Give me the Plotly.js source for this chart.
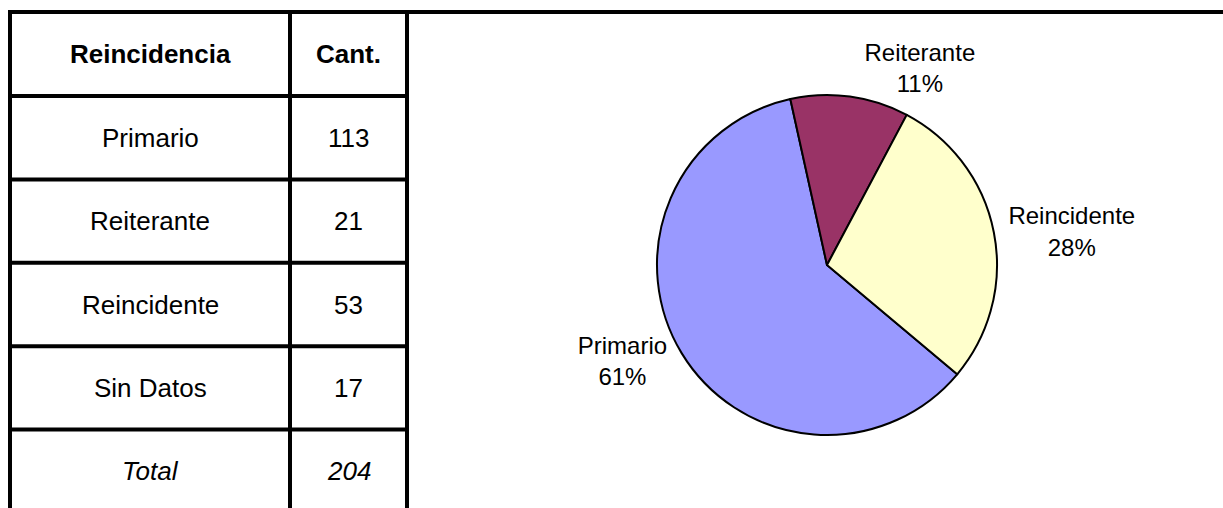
<!DOCTYPE html>
<html>
<head>
<meta charset="utf-8">
<script src="https://cdn.plot.ly/plotly-3.0.1.min.js"></script>
<style>html,body{margin:0;padding:0;background:#fff;}#chart{width:1223px;height:508px;}</style>
</head>
<body>
<div id="chart"></div>
<script>
// ---- data ----
const headerLabels = ['Reincidencia', 'Cant.'];
const categories = ['Primario', 'Reiterante', 'Reincidente', 'Sin Datos'];
const counts = [113, 21, 53, 17];
const totalLabel = 'Total';
const totalValue = 204;
const pieLabels = ['Primario', 'Reiterante', 'Reincidente'];
const pieValues = [113, 21, 53];
const pieText = ['61%', '11%', '28%'];
const pieColors = ['#9999FF', '#993366', '#FFFFCC'];

// ---- layout helpers ----
const W = 1223, H = 508;
const px = x => x / W;
const py = y => 1 - y / H;
const FONT = 'Liberation Sans, Arial, sans-serif';

const tblLeft = 10, colSep = 290, tblRight = 407;
const topY = 12, headerH = 84, rowH = 83.4;

const shapes = [];
const annotations = [];
function hline(y, x0, x1) {
  shapes.push({type: 'line', xref: 'paper', yref: 'paper', x0: px(x0), x1: px(x1), y0: py(y), y1: py(y), line: {color: '#000', width: 4}});
}
function vline(x, y0, y1) {
  shapes.push({type: 'line', xref: 'paper', yref: 'paper', x0: px(x), x1: px(x), y0: py(y0), y1: py(y1), line: {color: '#000', width: 4}});
}
// top line spans full width
hline(topY, 8, W);
vline(tblLeft, 10, H);
vline(colSep, topY, H);
vline(tblRight, 10, H);
const bounds = [topY + headerH];
for (let i = 1; i <= categories.length; i++) bounds.push(topY + headerH + i * rowH);
bounds.forEach(y => hline(y, 8, tblRight + 2));

const c1 = (tblLeft + colSep) / 2, c2 = (colSep + tblRight) / 2;
function cellText(t, x, y, opts) {
  annotations.push(Object.assign({xref: 'paper', yref: 'paper', x: px(x), y: py(y), text: t, showarrow: false,
    xanchor: 'center', yanchor: 'middle', font: {family: FONT, size: 26, color: '#000'}}, opts || {}));
}
const hy = topY + headerH / 2;
cellText('<b>' + headerLabels[0] + '</b>', c1, hy);
cellText('<b>' + headerLabels[1] + '</b>', c2, hy);
categories.forEach((c, i) => {
  const y = topY + headerH + i * rowH + rowH / 2;
  cellText(c, c1, y);
  cellText(String(counts[i]), c2, y);
});
const ty = topY + headerH + categories.length * rowH + rowH / 2;
cellText('<i>' + totalLabel + '</i>', c1, ty);
cellText('<i>' + totalValue + '</i>', c2, ty);

// ---- pie ----
const cx = 827, cy = 265, R = 170;
const pie = {
  type: 'pie',
  labels: pieLabels,
  values: pieValues,
  text: pieText,
  sort: false,
  direction: 'clockwise',
  rotation: 130,
  marker: {colors: pieColors, line: {color: '#000', width: 2}},
  textposition: 'outside',
  texttemplate: '%{label}<br>%{text}',
  textfont: {family: FONT, size: 24, color: '#000'},
  hoverinfo: 'none',
  showlegend: false,
  domain: {x: [px(cx - R), px(cx + R)], y: [py(cy + R), py(cy - R)]}
};

Plotly.newPlot('chart', [pie], {
  width: W, height: H,
  margin: {l: 0, r: 0, t: 0, b: 0},
  paper_bgcolor: '#fff',
  showlegend: false,
  shapes: shapes,
  annotations: annotations,
  font: {family: FONT}
}, {displayModeBar: false, staticPlot: true});
</script>
</body>
</html>
